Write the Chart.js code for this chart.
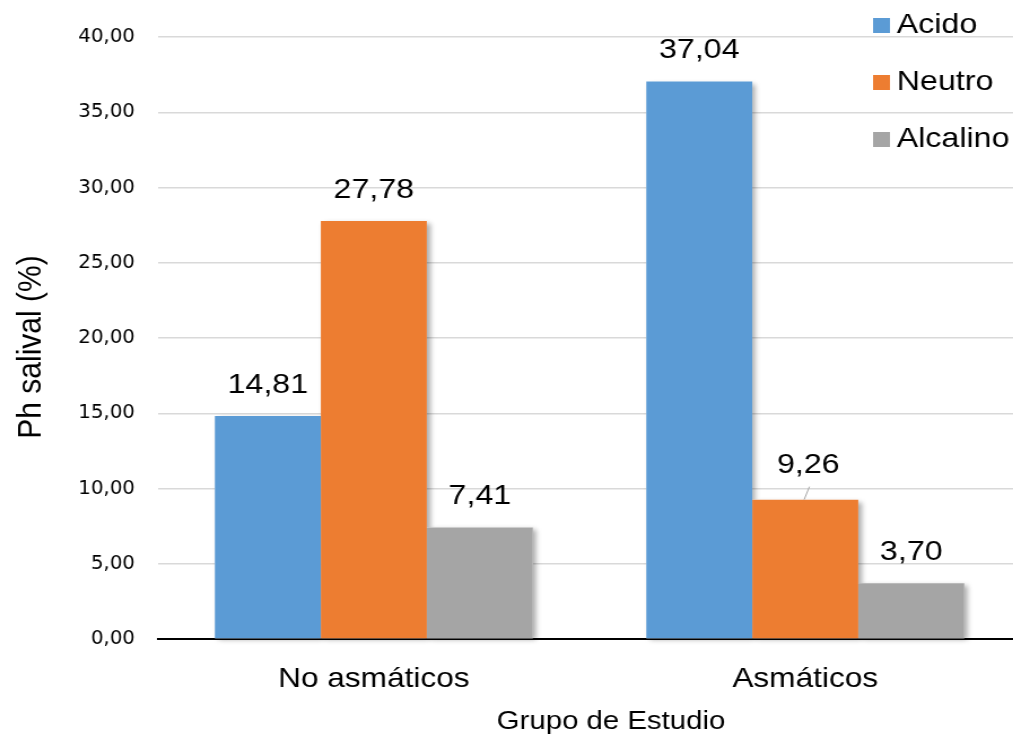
<!DOCTYPE html>
<html>
<head>
<meta charset="utf-8">
<script src="https://cdn.jsdelivr.net/npm/chart.js@4/dist/chart.umd.min.js"></script>
<style>
  html, body { margin: 0; padding: 0; background: #fff; overflow: hidden; width: 1013px; height: 740px; }
  /* the chart is laid out narrow and widened horizontally */
  #wrap { width: 904px; height: 740px; transform: scaleX(1.1294); transform-origin: 0 0; }
</style>
</head>
<body>
<div id="wrap"><canvas id="c" width="904" height="740"></canvas></div>
<script>
// Salivary pH distribution by study group (percentages)
const categories = ['No asmáticos', 'Asmáticos'];
const seriesNames = ['Acido', 'Neutro', 'Alcalino'];
const acido = [14.81, 37.04];
const neutro = [27.78, 9.26];
const alcalino = [7.41, 3.70];
const yTicks = [0, 5, 10, 15, 20, 25, 30, 35, 40];
const xTitle = 'Grupo de Estudio';
const yTitle = 'Ph salival (%)';

const colors = ['#5B9BD5', '#ED7D31', '#A5A5A5'];
const FONT = '"Liberation Sans", Arial, sans-serif';
const TICK_FONT = '"DejaVu Sans Condensed", "Liberation Sans", Arial, sans-serif';

const fmt = v => v.toFixed(2).replace('.', ',');

// soft drop shadow under every bar
const barShadow = {
  id: 'barShadow',
  beforeDatasetsDraw(chart) {
    const ctx = chart.ctx;
    ctx.save();
    ctx.shadowColor = 'rgba(0,0,0,0.35)';
    ctx.shadowBlur = 5;
    ctx.shadowOffsetX = 3;
    ctx.shadowOffsetY = 2;
    ctx.fillStyle = '#fff';
    chart.data.datasets.forEach((ds, i) => {
      chart.getDatasetMeta(i).data.forEach(bar => {
        const p = bar.getProps(['x', 'y', 'base', 'width'], true);
        ctx.fillRect(p.x - p.width / 2, p.y, p.width, p.base - p.y);
      });
    });
    ctx.restore();
  }
};

// value labels above the bars
const valueLabels = {
  id: 'valueLabels',
  afterDatasetsDraw(chart, args, opts) {
    const ctx = chart.ctx;
    ctx.save();
    ctx.font = '28.5px ' + FONT;
    ctx.textAlign = 'center';
    ctx.textBaseline = 'middle';
    chart.data.datasets.forEach((ds, i) => {
      chart.getDatasetMeta(i).data.forEach((bar, j) => {
        const p = bar.getProps(['x', 'y'], true);
        const shift = (opts.shifted[i] && opts.shifted[i][j]) || null;
        let lx = p.x, ly = p.y - 31;
        if (shift) {
          lx += shift[0]; ly += shift[1];
          ctx.strokeStyle = '#a6a6a6';
          ctx.lineWidth = 1;
          ctx.beginPath();
          ctx.moveTo(lx + 1, ly + 21);
          ctx.lineTo(p.x - 1, p.y);
          ctx.stroke();
        }
        ctx.fillStyle = '#000';
        ctx.fillText(fmt(ds.data[j]), lx, ly);
      });
    });
    ctx.restore();
  }
};

// legend stacked in the top-right corner, plus both axis titles
const legendAndTitles = {
  id: 'legendAndTitles',
  afterDraw(chart) {
    const ctx = chart.ctx;
    ctx.save();
    ctx.font = '28.5px ' + FONT;
    ctx.textBaseline = 'middle';
    ctx.textAlign = 'left';
    chart.data.datasets.forEach((ds, i) => {
      const cy = 25 + i * 57;
      ctx.fillStyle = ds.backgroundColor;
      ctx.fillRect(773, cy - 7, 15, 15);
      ctx.fillStyle = '#000';
      ctx.fillText(ds.label, 794, cy);
    });

    ctx.font = '26px ' + FONT;
    ctx.textAlign = 'center';
    ctx.fillText(xTitle, 541, 722);

    ctx.font = '30px ' + FONT;
    ctx.translate(27.5, 347);
    ctx.rotate(-Math.PI / 2);
    ctx.fillText(yTitle, 0, 0);
    ctx.restore();
  }
};

new Chart(document.getElementById('c'), {
  type: 'bar',
  data: {
    labels: categories,
    datasets: [
      { label: seriesNames[0], data: acido, backgroundColor: colors[0] },
      { label: seriesNames[1], data: neutro, backgroundColor: colors[1] },
      { label: seriesNames[2], data: alcalino, backgroundColor: colors[2] }
    ]
  },
  options: {
    responsive: false,
    animation: false,
    devicePixelRatio: 1,
    layout: { padding: { top: 37, left: 0, right: 0, bottom: 0 } },
    datasets: { bar: { barPercentage: 1, categoryPercentage: 0.737, borderWidth: 0 } },
    plugins: {
      legend: { display: false },
      tooltip: { enabled: false },
      valueLabels: { shifted: { 1: { 1: [2.7, -3] } } }
    },
    scales: {
      x: {
        grid: { display: false, drawTicks: false },
        border: { display: true, color: '#000', width: 2 },
        ticks: { color: '#000', font: { family: FONT, size: 28 }, padding: 23, maxRotation: 0 },
        afterFit(s) { s.height = 101; }
      },
      y: {
        min: 0, max: 40,
        afterBuildTicks(s) { s.ticks = yTicks.map(v => ({ value: v })); },
        grid: { color: '#d9d9d9', lineWidth: 1.5, drawTicks: false },
        border: { display: false },
        ticks: {
          color: '#000',
          padding: 20.5,
          font: { family: TICK_FONT, size: 19.5 },
          callback: v => fmt(v)
        },
        afterFit(s) { s.width = 140; }
      }
    }
  },
  plugins: [barShadow, valueLabels, legendAndTitles]
});
</script>
</body>
</html>
